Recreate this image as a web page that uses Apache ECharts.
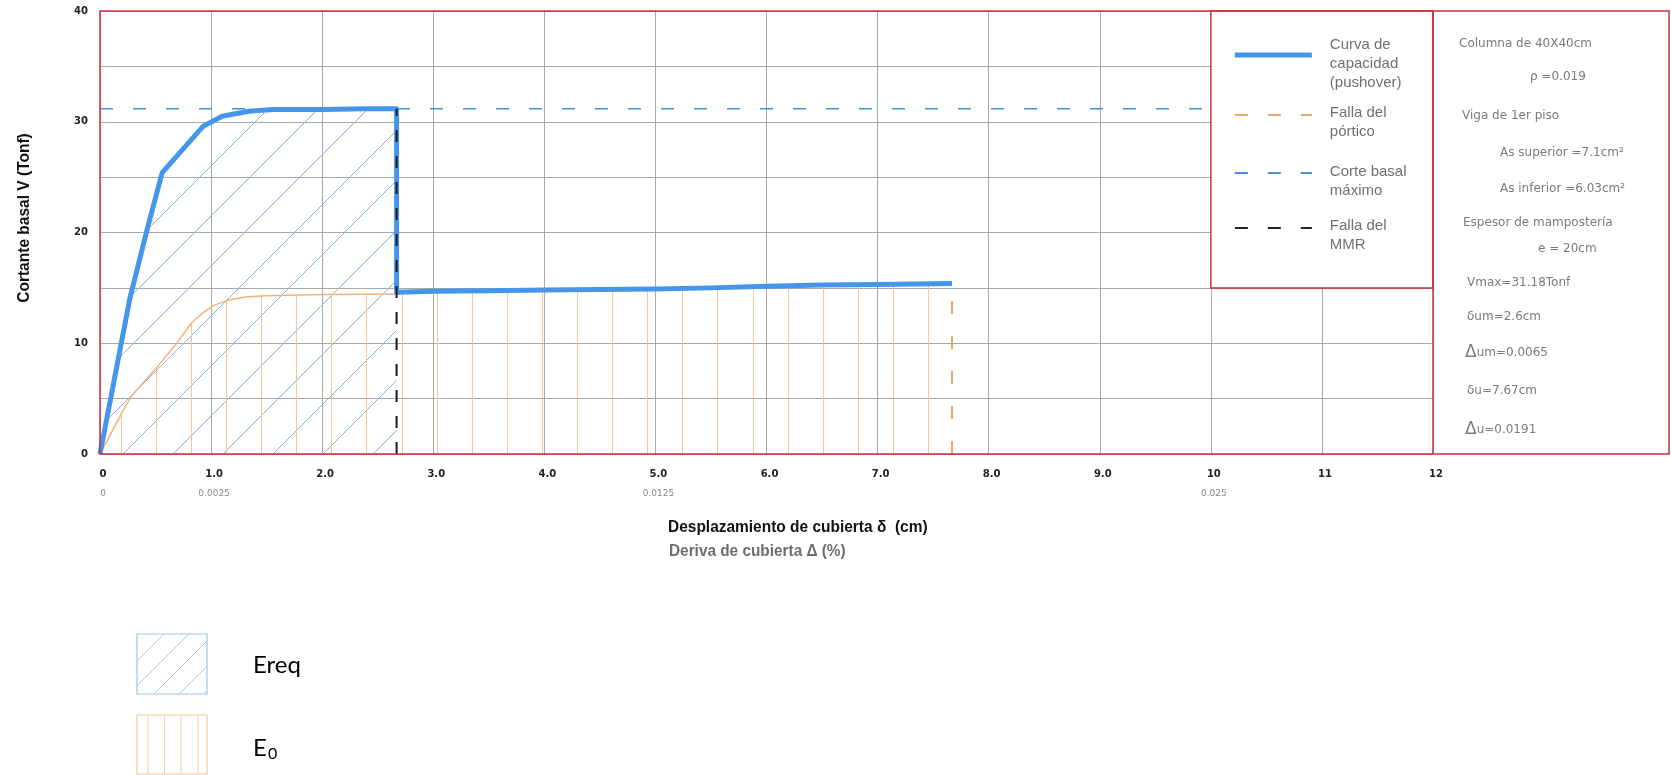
<!DOCTYPE html>
<html>
<head>
<meta charset="utf-8">
<script src="https://cdn.jsdelivr.net/npm/echarts@6/dist/echarts.min.js"></script>
<style>html,body{margin:0;padding:0;background:#fff}#c{width:1671px;height:775px}</style>
</head>
<body>
<div id="c"></div>
<script>
// ---------------- DATA ----------------
// Curva de capacidad (pushover): desplazamiento (cm) / cortante basal (Tonf)
const pushX = [0, 0.27, 0.43, 0.56, 0.93, 1.10, 1.34, 1.56, 2.00, 2.40, 2.67, 2.67, 3.0, 3.5, 4.0, 4.5, 5.0, 5.5, 6.0, 6.5, 7.0, 7.67];
const pushY = [0, 14.1, 20.5, 25.4, 29.6, 30.5, 30.95, 31.1, 31.1, 31.18, 31.18, 14.6, 14.7, 14.75, 14.8, 14.85, 14.9, 15.0, 15.15, 15.25, 15.3, 15.4];
const mmrIndex = 10;            // last point before the MMR failure drop
// Falla del pórtico (curva del pórtico)
const porticoX = [0, 0.19, 0.28, 0.51, 0.69, 0.83, 0.92, 1.02, 1.14, 1.32, 1.50, 2.00, 2.67];
const porticoY = [0, 3.6, 5.2, 7.8, 10.0, 11.9, 12.7, 13.4, 13.85, 14.2, 14.3, 14.4, 14.45];
// Corte basal máximo
const vMax = 31.18;
const vMaxX = [0, 10];
// Failure displacements
const deltaMMR = 2.67;
const deltaU = 7.67;
// Tick labels
const xTickLabels = ['0', '1.0', '2.0', '3.0', '4.0', '5.0', '6.0', '7.0', '8.0', '9.0', '10', '11', '12'];
const driftTickLabels = ['0', '0.0025', '', '', '', '0.0125', '', '', '', '', '0.025', '', ''];
const yTickLabels = [0, 10, 20, 30, 40];
// Texts
const legendLabels = ['Curva de\ncapacidad\n(pushover)', 'Falla del\npórtico', 'Corte basal\nmáximo', 'Falla del\nMMR'];
const noteTexts = ['Columna de 40X40cm', 'ρ =0.019', 'Viga de 1er piso', 'As superior =7.1cm²', 'As inferior =6.03cm²',
  'Espesor de mampostería', 'e = 20cm', 'Vmax=31.18Tonf', 'δum=2.6cm', '{d|Δ}um=0.0065', 'δu=7.67cm', '{d|Δ}u=0.0191'];
const yTitle = 'Cortante basal V (Tonf)';
const xTitle = 'Desplazamiento de cubierta δ  (cm)';
const xTitle2 = 'Deriva de cubierta Δ (%)';
const areaLabels = ['Ereq', 'E'];

// ---------------- STYLE / LAYOUT ----------------
const RED = '#c8303f', GRID = '#a9a9a9', BLUE = '#4596ea', ORANGE = '#f0a860';
const SANS = '"Liberation Sans", Arial, sans-serif';

function diagPattern(size, offset, color) {
  const c = document.createElement('canvas'); c.width = size; c.height = size;
  const g = c.getContext('2d'); g.strokeStyle = color; g.lineWidth = 1;
  for (let k = -1; k <= 2; k++) {
    const cc = offset + k * size;
    g.beginPath(); g.moveTo(cc + 2, -2); g.lineTo(cc - size - 2, size + 2); g.stroke();
  }
  return c;
}
function vertPattern(period, count, offset, color) {
  const w = Math.round(period * count);
  const c = document.createElement('canvas'); c.width = w; c.height = 4;
  const g = c.getContext('2d'); g.fillStyle = color;
  for (let k = 0; k < count; k++) g.fillRect(Math.round(offset + period * k), 0, 1, 4);
  return c;
}
const diagCanvas = diagPattern(50, 27, '#86b2de');
const vertCanvas = vertPattern(35.1, 10, 15.4, '#f5c797');

const pair = (xs, ys) => xs.map((x, i) => [x, ys[i]]);
const pushData = pair(pushX, pushY);
const ereqData = pushData.slice(0, mmrIndex + 1);
const e0Data = pair(porticoX, porticoY).concat(pushData.slice(mmrIndex + 1));
const lastY = pushY[pushY.length - 1];

const grid = { left: 100, top: 11, width: 1333, height: 443 };
const gx0 = grid.left, gy0 = grid.top, gy1 = grid.top + grid.height, gx1 = grid.left + grid.width;
const boxLeft = grid.left + grid.width * 10 / 12;
const boxBottom = gy0 + grid.height * (40 - 15) / 40;
const figRight = 1669;

const graphics = [];
// frame
graphics.push({ type: 'rect', z: 50, shape: { x: boxLeft, y: gy0, width: gx1 - boxLeft, height: boxBottom - gy0 }, style: { fill: '#fff', stroke: RED, lineWidth: 1.5 } });
graphics.push({ type: 'rect', z: 60, shape: { x: gx0, y: gy0, width: figRight - gx0, height: gy1 - gy0 }, style: { fill: null, stroke: RED, lineWidth: 1.5 } });
graphics.push({ type: 'line', z: 60, shape: { x1: gx1, y1: gy0, x2: gx1, y2: gy1 }, style: { stroke: RED, lineWidth: 1.5 } });
// legend inside box
const legY = [55, 115, 173, 228];
const legTextY = [45, 113, 172, 226];
const legStyles = [
  { stroke: BLUE, lineWidth: 5, lineDash: null },
  { stroke: ORANGE, lineWidth: 2, lineDash: [13, 20] },
  { stroke: '#4a90d9', lineWidth: 2, lineDash: [13, 20] },
  { stroke: '#222', lineWidth: 2, lineDash: [13, 20] }
];
legendLabels.forEach((t, i) => {
  graphics.push({ type: 'line', z: 70, shape: { x1: boxLeft + 24, y1: legY[i], x2: boxLeft + 101, y2: legY[i] }, style: legStyles[i] });
  graphics.push({ type: 'text', z: 70, x: boxLeft + 119, y: legTextY[i] - 10,
    style: { text: t, fill: '#707070', font: '15px ' + SANS, lineHeight: 19, verticalAlign: 'top', align: 'left' } });
});
// notes panel
const noteLayout = [[1459, 44], [1530, 77], [1462, 116], [1500, 153], [1500, 189], [1463, 223], [1538, 249],
  [1467, 283], [1467, 317], [1465, 353], [1467, 391], [1465, 430]];
noteTexts.forEach((t, i) => {
  graphics.push({ type: 'text', z: 70, x: noteLayout[i][0], y: noteLayout[i][1],
    style: { text: t, fill: '#7a7a7a', font: '12px "DejaVu Sans", sans-serif', verticalAlign: 'middle', align: 'left',
      rich: { d: { fontSize: 17, fill: '#7a7a7a', fontFamily: 'DejaVu Sans' } } } });
});
// axis titles (slightly condensed via horizontal scale)
graphics.push({ type: 'text', z: 70, x: 25, y: 218, rotation: Math.PI / 2, scaleX: 0.97,
  style: { text: yTitle, fill: '#111', font: 'bold 16px ' + SANS, align: 'center', verticalAlign: 'middle' } });
graphics.push({ type: 'text', z: 70, x: 668, y: 527, scaleX: 0.91,
  style: { text: xTitle, fill: '#111', font: 'bold 17px ' + SANS, align: 'left', verticalAlign: 'middle' } });
graphics.push({ type: 'text', z: 70, x: 669, y: 552, scaleX: 0.96,
  style: { text: xTitle2, fill: '#6e6e6e', font: 'bold 16px ' + SANS, align: 'left', verticalAlign: 'middle' } });
// bottom legend swatches
const sw1 = { x: 137, y: 634, w: 70, h: 60 }, sw2 = { x: 137, y: 715, w: 70, h: 59 };
graphics.push({ type: 'rect', z: 70, shape: { x: sw1.x, y: sw1.y, width: sw1.w, height: sw1.h }, style: { fill: '#fff', stroke: '#9cc6ee', lineWidth: 1.2 } });
for (let c = 798; c < sw1.x + sw1.w + sw1.y + sw1.h; c += 25) {
  const xs = Math.max(sw1.x, c - (sw1.y + sw1.h)), xe = Math.min(sw1.x + sw1.w, c - sw1.y);
  if (xe > xs) graphics.push({ type: 'line', z: 71, shape: { x1: xs, y1: c - xs, x2: xe, y2: c - xe }, style: { stroke: '#a9c9ea', lineWidth: 1 } });
}
graphics.push({ type: 'rect', z: 70, shape: { x: sw2.x, y: sw2.y, width: sw2.w, height: sw2.h }, style: { fill: '#fff', stroke: '#f6c99a', lineWidth: 1.2 } });
[148, 164.5, 181, 198].forEach(x => graphics.push({ type: 'line', z: 71, shape: { x1: x, y1: sw2.y, x2: x, y2: sw2.y + sw2.h }, style: { stroke: '#f6cfa6', lineWidth: 1 } }));
graphics.push({ type: 'text', z: 70, x: 253, y: 665, style: { text: areaLabels[0], fill: '#000', font: '24px Lato, "Open Sans", sans-serif', verticalAlign: 'middle', align: 'left' } });
graphics.push({ type: 'text', z: 70, x: 253, y: 748, style: { text: areaLabels[1], fill: '#000', font: '24px Lato, "Open Sans", sans-serif', verticalAlign: 'middle', align: 'left' } });
graphics.push({ type: 'text', z: 70, x: 268, y: 754, style: { text: '0', fill: '#000', font: '16px Lato, "Open Sans", sans-serif', verticalAlign: 'middle', align: 'left' } });

const option = {
  animation: false,
  backgroundColor: '#fff',
  grid: grid,
  xAxis: {
    type: 'value', min: 0, max: 12, interval: 1,
    axisLine: { show: false }, axisTick: { show: false },
    splitLine: { show: true, lineStyle: { color: GRID, width: 1 } },
    axisLabel: {
      margin: 10,
      formatter: v => { const k = Math.round(v); return '{a|' + (xTickLabels[k] || '') + '}\n{b|' + (driftTickLabels[k] || ' ') + '}'; },
      rich: {
        a: { fontFamily: 'DejaVu Sans', fontWeight: 'bold', fontSize: 10, color: '#222', lineHeight: 20, padding: [0, 0, 0, 6] },
        b: { fontFamily: 'DejaVu Sans', fontSize: 9, color: '#8a8a8a', lineHeight: 20, padding: [0, 0, 0, 6] }
      }
    }
  },
  yAxis: {
    type: 'value', min: 0, max: 40, interval: 5,
    axisLine: { show: false }, axisTick: { show: false },
    splitLine: { show: true, lineStyle: { color: GRID, width: 1 } },
    axisLabel: { margin: 12, fontFamily: 'DejaVu Sans', fontWeight: 'bold', fontSize: 10, color: '#222',
      formatter: v => yTickLabels.indexOf(v) >= 0 ? String(v) : '' }
  },
  series: [
    { name: 'Ereq', type: 'line', data: ereqData, showSymbol: false, silent: true, z: 1,
      lineStyle: { width: 0, opacity: 0 }, areaStyle: { color: { image: diagCanvas, repeat: 'repeat' }, opacity: 1 } },
    { name: 'E0', type: 'line', data: e0Data, showSymbol: false, silent: true, z: 1,
      lineStyle: { width: 0, opacity: 0 }, areaStyle: { color: { image: vertCanvas, repeat: 'repeat' }, opacity: 1 } },
    { name: 'Pórtico', type: 'line', data: pair(porticoX, porticoY), showSymbol: false, silent: true, z: 3,
      lineStyle: { color: '#f3b27a', width: 1.5 } },
    { name: 'Corte basal máximo', type: 'line', data: vMaxX.map(x => [x, vMax]), showSymbol: false, silent: true, z: 3,
      lineStyle: { color: '#4a90d9', width: 1.5, type: [13, 20] } },
    { name: 'Falla del pórtico', type: 'line', data: [[deltaU, 0], [deltaU, lastY]], showSymbol: false, silent: true, z: 3,
      lineStyle: { color: ORANGE, width: 2, type: [13, 22] } },
    { name: 'Pushover', type: 'line', data: pushData, showSymbol: false, silent: true, z: 5,
      lineStyle: { color: BLUE, width: 5, join: 'round' } },
    { name: 'Falla del MMR', type: 'line', data: [[deltaMMR, 0], [deltaMMR, pushY[mmrIndex]]], showSymbol: false, silent: true, z: 6,
      lineStyle: { color: '#1a1a1a', width: 2, type: [12, 14] } }
  ],
  graphic: graphics
};
const chart = echarts.init(document.getElementById('c'), null, { renderer: 'canvas', width: 1671, height: 775 });
chart.setOption(option);
</script>
</body>
</html>
